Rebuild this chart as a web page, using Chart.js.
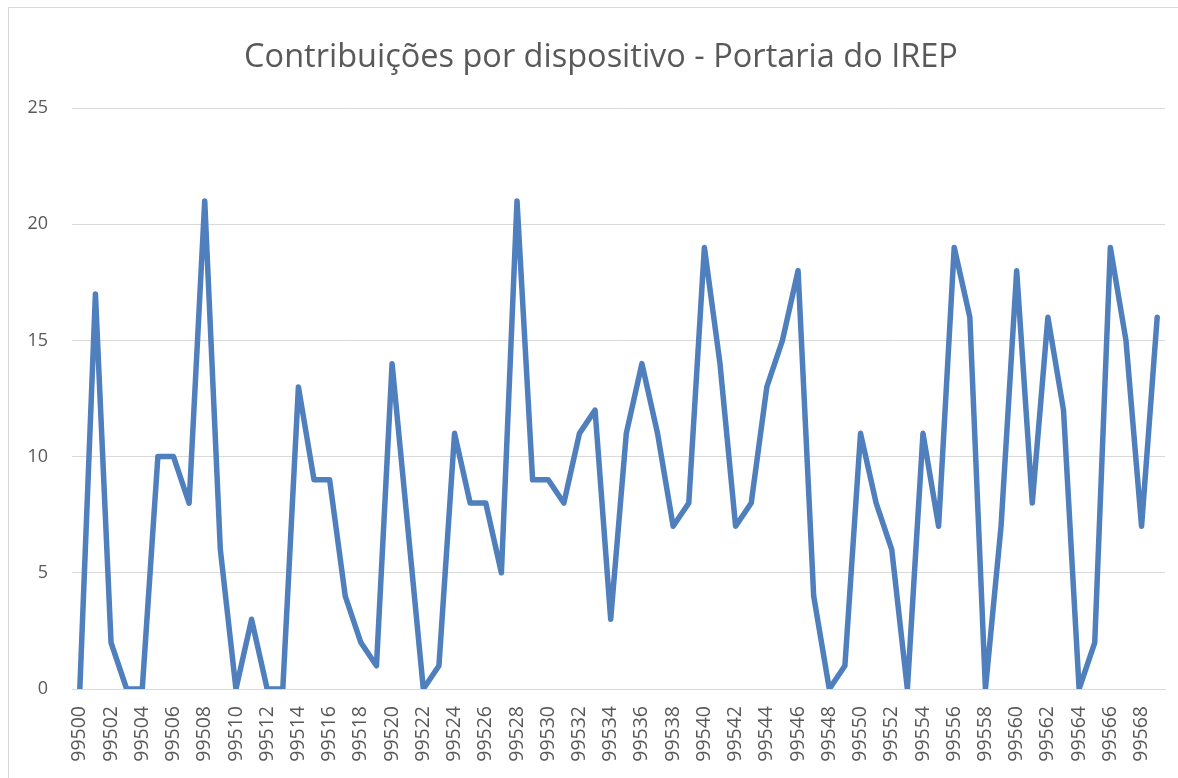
<!DOCTYPE html>
<html>
<head>
<meta charset="utf-8">
<script src="https://cdn.jsdelivr.net/npm/chart.js"></script>
<style>
  html, body { margin: 0; padding: 0; background: #fff; }
  #wrap { position: relative; width: 1178px; height: 778px; }
  #frame { position: absolute; left: 8px; top: 7px; width: 1180px; height: 790px;
           border: 1px solid #d9d9d9; pointer-events: none; }
</style>
</head>
<body>
<div id="wrap">
  <canvas id="chart" width="1178" height="778"></canvas>
  <div id="frame"></div>
</div>
<script>
// Device ids 99500..99569
const devices = [
  '99500','99501','99502','99503','99504','99505','99506','99507','99508','99509',
  '99510','99511','99512','99513','99514','99515','99516','99517','99518','99519',
  '99520','99521','99522','99523','99524','99525','99526','99527','99528','99529',
  '99530','99531','99532','99533','99534','99535','99536','99537','99538','99539',
  '99540','99541','99542','99543','99544','99545','99546','99547','99548','99549',
  '99550','99551','99552','99553','99554','99555','99556','99557','99558','99559',
  '99560','99561','99562','99563','99564','99565','99566','99567','99568','99569'
];

// Contributions per device
const contributions = [
  0, 17, 2, 0, 0, 10, 10, 8, 21, 6,
  0, 3, 0, 0, 13, 9, 9, 4, 2, 1,
  14, 7, 0, 1, 11, 8, 8, 5, 21, 9,
  9, 8, 11, 12, 3, 11, 14, 11, 7, 8,
  19, 14, 7, 8, 13, 15, 18, 4, 0, 1,
  11, 8, 6, 0, 11, 7, 19, 16, 0, 7,
  18, 8, 16, 12, 0, 2, 19, 15, 7, 16
];

const yTicks = [0, 5, 10, 15, 20, 25];

const textColor = '#595959';
const gridColor = '#d9d9d9';

new Chart(document.getElementById('chart'), {
  type: 'line',
  data: {
    labels: devices,
    datasets: [{
      data: contributions,
      borderColor: '#4f7fbc',
      borderWidth: 5.5,
      borderJoinStyle: 'round',
      borderCapStyle: 'round',
      pointRadius: 0,
      tension: 0,
      fill: false
    }]
  },
  options: {
    responsive: false,
    animation: false,
    // left padding shifts the title centre to where the original has it
    layout: { padding: { left: 24, right: 0, top: 0, bottom: 0 } },
    plugins: {
      legend: { display: false },
      tooltip: { enabled: false },
      title: {
        display: true,
        text: 'Contribuições por dispositivo - Portaria do IREP',
        color: textColor,
        font: { family: 'Open Sans', size: 32.5, weight: 'normal' },
        padding: { top: 38, bottom: 31 }
      }
    },
    scales: {
      x: {
        offset: true,
        grid: { display: false, drawTicks: false },
        border: { color: gridColor },
        ticks: {
          autoSkip: false,
          maxRotation: 90,
          minRotation: 90,
          padding: 17,
          color: textColor,
          font: { family: 'Open Sans', size: 19.5 },
          callback: function (val, i) { return i % 2 === 0 ? devices[i] : ''; }
        },
        afterFit: function (scale) {
          scale.height = 89;
          scale.paddingLeft = 0;
          scale.paddingRight = 13;
        }
      },
      y: {
        min: 0,
        max: 25,
        afterBuildTicks: function (scale) { scale.ticks = yTicks.map(v => ({ value: v })); },
        grid: { color: gridColor, drawTicks: false },
        border: { display: false },
        ticks: {
          padding: 24,
          color: textColor,
          font: { family: 'Open Sans', size: 18 }
        },
        afterFit: function (scale) { scale.width = 48; }
      }
    }
  }
});
</script>
</body>
</html>
